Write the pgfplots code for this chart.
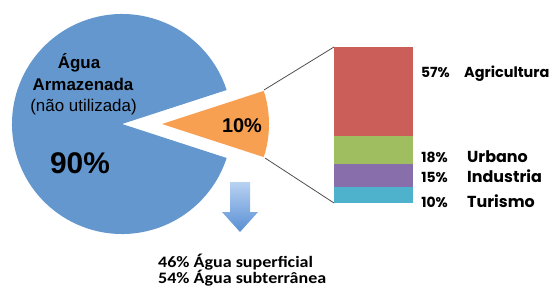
\documentclass[border=0pt]{standalone}
\usepackage{fontspec}
\setmainfont{Liberation Sans}
\newfontfamily\carlito{Carlito}[BoldFont={Carlito Bold}]
\newfontfamily\pop{Poppins}
\usepackage{graphicx}
\usepackage{pgfplots}
\pgfplotsset{compat=1.18}
\definecolor{pieblue}{RGB}{99,151,206}
\definecolor{pieorange}{RGB}{248,160,82}
\definecolor{cred}{RGB}{204,94,89}
\definecolor{cgreen}{RGB}{158,190,96}
\definecolor{cpurple}{RGB}{137,110,172}
\definecolor{ccyan}{RGB}{78,178,204}
\definecolor{linegray}{RGB}{80,80,80}
% data
\def\stored{90}
\def\used{10}
\begin{document}
\begin{tikzpicture}
\pgfmathsetmacro{\half}{3.6*\used/2}
\pgfmathsetmacro{\bstart}{\half}
\pgfmathsetmacro{\bend}{360-\half}
\begin{axis}[at={(0,0)}, anchor=south west, scale only axis,
  width=558bp, height=291bp, xmin=0, xmax=558, ymin=0, ymax=291,
  y dir=reverse, hide axis, clip=false, enlargelimits=false]
  % pie: stored water (90%)
  \fill[pieblue] (axis cs:122,124) -- ++(\bstart:110bp)
     arc[start angle=\bstart, end angle=\bend, radius=110bp] -- cycle;
  % exploded slice: used water (10%)
  \fill[pieorange] (axis cs:162,124) -- ++(-\half:107bp)
     arc[start angle=-\half, end angle=\half, radius=107bp] -- cycle;
  % connector lines
  \draw[linegray, line width=0.8bp] (axis cs:264,90) -- (axis cs:334,47);
  \draw[linegray, line width=0.8bp] (axis cs:265,158) -- (axis cs:334,203);
  % arrow
  \shade[top color={rgb,255:red,185;green,210;blue,242}, bottom color={rgb,255:red,88;green,143;blue,212}]
    (axis cs:230,182) -- (axis cs:250,182) -- (axis cs:250,212) -- (axis cs:258,212)
    -- (axis cs:240,232) -- (axis cs:222,212) -- (axis cs:230,212) -- cycle;
  % pie labels
  \node[anchor=base, font=\bfseries\fontsize{17}{20}\selectfont] at (axis cs:79,68) {Água};
  \node[anchor=base, font=\bfseries\fontsize{17}{20}\selectfont] at (axis cs:83,90) {Armazenada};
  \node[anchor=base, font=\fontsize{17}{20}\selectfont] at (axis cs:83.5,111) {(não utilizada)};
  \node[anchor=base, font=\bfseries\fontsize{30}{34}\selectfont] at (axis cs:80,173) {90\%};
  \node[anchor=base, font=\bfseries\fontsize{20}{24}\selectfont] at (axis cs:242,132) {10\%};
  % bar labels
  \node[anchor=base east, inner sep=0pt, font=\pop\bfseries\fontsize{14}{16}\selectfont] at (axis cs:450,77) {57\%};
  \node[anchor=base east, inner sep=0pt, font=\pop\bfseries\fontsize{14}{16}\selectfont] at (axis cs:448,162) {18\%};
  \node[anchor=base east, inner sep=0pt, font=\pop\bfseries\fontsize{14}{16}\selectfont] at (axis cs:448,182) {15\%};
  \node[anchor=base east, inner sep=0pt, font=\pop\bfseries\fontsize{14}{16}\selectfont] at (axis cs:448,207) {10\%};
  \node[anchor=base west, inner sep=0pt, font=\pop\bfseries\fontsize{14.5}{17}\selectfont] at (axis cs:464,77) {Agricultura};
  \node[anchor=base west, inner sep=0pt, font=\pop\bfseries\fontsize{16}{18}\selectfont] at (axis cs:467,162) {Urbano};
  \node[anchor=base west, inner sep=0pt, font=\pop\bfseries\fontsize{16}{18}\selectfont] at (axis cs:467,182) {Industria};
  \node[anchor=base west, inner sep=0pt, font=\pop\bfseries\fontsize{16}{18}\selectfont] at (axis cs:467,207) {Turismo};
  % bottom text
  \node[anchor=base west, inner sep=0pt, font=\carlito\bfseries\fontsize{16}{16}\selectfont] at (axis cs:158,267) {\scalebox{1.13}[1]{46\% Água superficial}};
  \node[anchor=base west, inner sep=0pt, font=\carlito\bfseries\fontsize{16}{16}\selectfont] at (axis cs:158,283) {\scalebox{1.13}[1]{54\% Água subterrânea}};
\end{axis}
\begin{axis}[at={(334bp,88bp)}, anchor=south west, scale only axis,
  width=79bp, height=156bp, xmin=0, xmax=1, ymin=0, ymax=100,
  enlargelimits=false, hide axis, ybar stacked, bar width=1, bar shift=0]
  \addplot[fill=ccyan, draw=none] coordinates {(0.5,10)};
  \addplot[fill=cpurple, draw=none] coordinates {(0.5,15)};
  \addplot[fill=cgreen, draw=none] coordinates {(0.5,18)};
  \addplot[fill=cred, draw=none] coordinates {(0.5,57)};
\end{axis}
\pgfresetboundingbox
\path[use as bounding box] (0,0) rectangle (558bp,291bp);
\end{tikzpicture}
\end{document}
